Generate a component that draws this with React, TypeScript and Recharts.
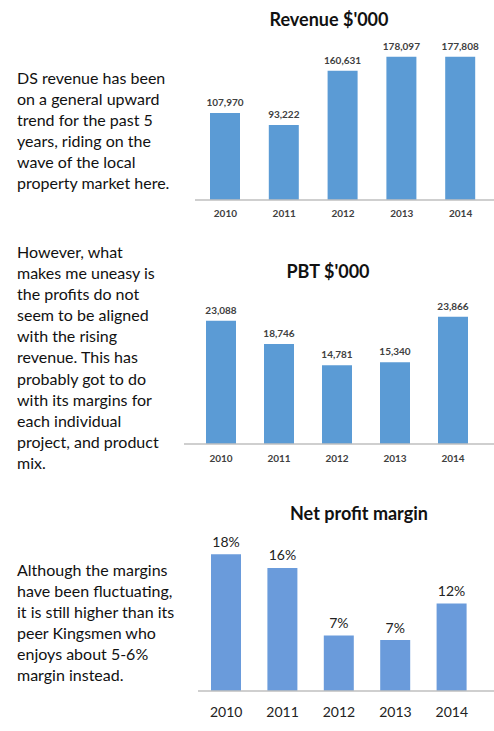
import React from "react";
import { BarChart, Bar, XAxis, YAxis, LabelList } from "recharts";

const years = ["2010", "2011", "2012", "2013", "2014"];
const revenue = [107970, 93222, 160631, 178097, 177808];
const pbt = [23088, 18746, 14781, 15340, 23866];
const netMargin = [18.0, 16.2, 7.3, 6.7, 11.5];

const revenueTitle = "Revenue $'000";
const pbtTitle = "PBT $'000";
const marginTitle = "Net profit margin";

const text1 = [
  "DS revenue has been",
  "on a general upward",
  "trend for the past 5",
  "years, riding on the",
  "wave of the local",
  "property market here.",
];
const text2 = [
  "However, what",
  "makes me uneasy is",
  "the profits do not",
  "seem to be aligned",
  "with the rising",
  "revenue. This has",
  "probably got to do",
  "with its margins for",
  "each individual",
  "project, and product",
  "mix.",
];
const text3 = [
  "Although the margins",
  "have been fluctuating,",
  "it is still higher than its",
  "peer Kingsmen who",
  "enjoys about 5-6%",
  "margin instead.",
];

const revenueData = years.map((y, i) => ({ year: y, value: revenue[i] }));
const pbtData = years.map((y, i) => ({ year: y, value: pbt[i] }));
const marginData = years.map((y, i) => ({ year: y, value: netMargin[i] }));

const FONT = "Lato, 'Open Sans', sans-serif";

const fmtThousands = (v: any) => Number(v).toLocaleString("en-US");
const fmtPct = (v: any) => `${Math.round(Number(v))}%`;

function TextBlock({ lines, top }: { lines: string[]; top: number }) {
  return (
    <div
      style={{
        position: "absolute",
        left: 17,
        top,
        fontFamily: FONT,
        fontSize: 16,
        lineHeight: "21.1px",
        color: "#111",
        whiteSpace: "nowrap",
      }}
    >
      {lines.map((l, i) => (
        <div key={i}>{l}</div>
      ))}
    </div>
  );
}

function Title({ text, cx, cy }: { text: string; cx: number; cy: number }) {
  return (
    <div
      style={{
        position: "absolute",
        left: cx - 120,
        width: 240,
        top: cy - 11,
        height: 22,
        lineHeight: "22px",
        textAlign: "center",
        fontFamily: FONT,
        fontWeight: 700,
        fontSize: 18,
        color: "#111",
        whiteSpace: "nowrap",
      }}
    >
      {text}
    </div>
  );
}

export default function App() {
  return (
    <div
      style={{
        position: "absolute",
        left: 0,
        top: 0,
        width: 494,
        height: 731,
        background: "#fff",
        overflow: "hidden",
      }}
    >
      <TextBlock lines={text1} top={66.5} />
      <TextBlock lines={text2} top={241} />
      <TextBlock lines={text3} top={558.7} />

      <Title text={revenueTitle} cx={329} cy={19} />
      <Title text={pbtTitle} cx={328} cy={271} />
      <Title text={marginTitle} cx={359} cy={513} />

      <div style={{ position: "absolute", left: 0, top: 0 }}>
        <BarChart
          width={494}
          height={230}
          data={revenueData}
          margin={{ top: 39, right: 0, left: 195, bottom: 0 }}
        >
          <XAxis
            dataKey="year"
            height={30}
            interval={0}
            padding={{ left: 1, right: 4 }}
            axisLine={{ stroke: "#BFBFBF", strokeWidth: 1.5 }}
            tickLine={false}
            tickSize={0}
            tickMargin={10}
            tick={{ fill: "#404040", fontSize: 10, fontFamily: FONT, fontWeight: 700 }}
          />
          <YAxis hide domain={[0, 200000]} />
          <Bar dataKey="value" fill="#5B9BD5" barSize={30} isAnimationActive={false}>
            <LabelList
              dataKey="value"
              position="top"
              offset={7}
              formatter={fmtThousands}
              fill="#404040"
              fontSize={10}
              fontFamily={FONT}
              fontWeight={700}
            />
          </Bar>
        </BarChart>
      </div>

      <div style={{ position: "absolute", left: 0, top: 240 }}>
        <BarChart
          width={494}
          height={240}
          data={pbtData}
          margin={{ top: 44, right: 0, left: 184, bottom: 0 }}
        >
          <XAxis
            dataKey="year"
            height={36}
            interval={0}
            padding={{ left: 8, right: 12 }}
            axisLine={{ stroke: "#BFBFBF", strokeWidth: 1.5 }}
            tickLine={false}
            tickSize={0}
            tickMargin={11}
            tick={{ fill: "#404040", fontSize: 10, fontFamily: FONT, fontWeight: 700 }}
          />
          <YAxis hide domain={[0, 30000]} />
          <Bar dataKey="value" fill="#5B9BD5" barSize={30} isAnimationActive={false}>
            <LabelList
              dataKey="value"
              position="top"
              offset={7}
              formatter={fmtThousands}
              fill="#404040"
              fontSize={10}
              fontFamily={FONT}
              fontWeight={700}
            />
          </Bar>
        </BarChart>
      </div>

      <div style={{ position: "absolute", left: 0, top: 480 }}>
        <BarChart
          width={494}
          height={251}
          data={marginData}
          margin={{ top: 59, right: 0, left: 198, bottom: 0 }}
        >
          <XAxis
            dataKey="year"
            height={40}
            interval={0}
            padding={{ left: 0, right: 14 }}
            axisLine={{ stroke: "#BFBFBF", strokeWidth: 1.5 }}
            tickLine={false}
            tickSize={0}
            tickMargin={16}
            tick={{ fill: "#222", fontSize: 14, fontFamily: FONT, fontWeight: 400 }}
          />
          <YAxis hide domain={[0, 20]} />
          <Bar dataKey="value" fill="#6A9BDB" barSize={30} isAnimationActive={false}>
            <LabelList
              dataKey="value"
              position="top"
              offset={7.5}
              formatter={fmtPct}
              fill="#222"
              fontSize={14}
              fontFamily={FONT}
              fontWeight={400}
            />
          </Bar>
        </BarChart>
      </div>
    </div>
  );
}
